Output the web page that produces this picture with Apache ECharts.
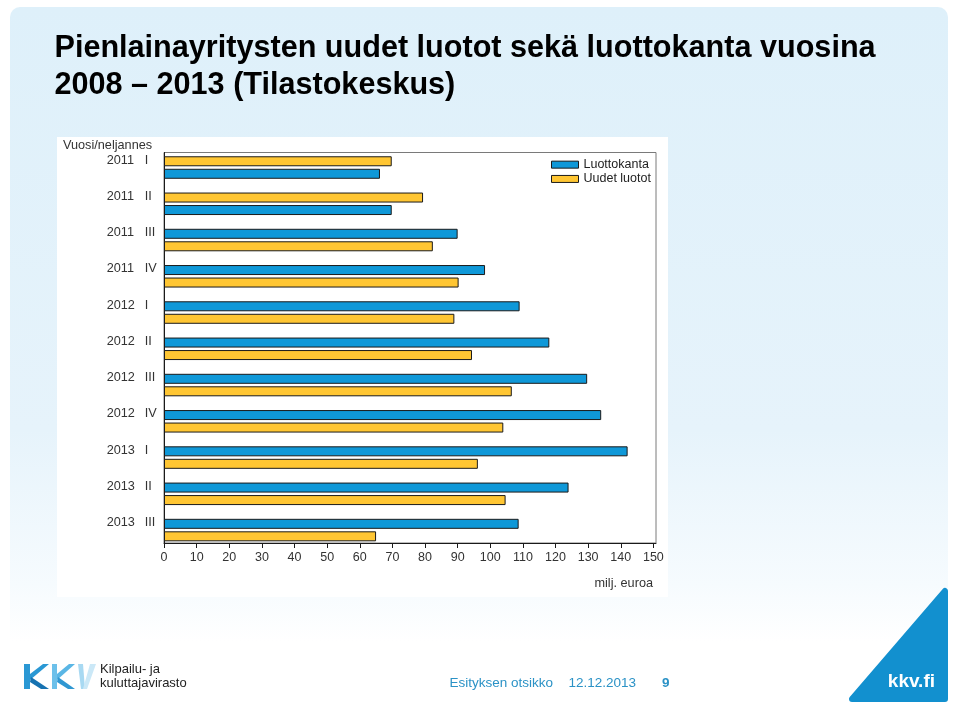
<!DOCTYPE html>
<html><head><meta charset="utf-8">
<script src="https://cdn.jsdelivr.net/npm/echarts/dist/echarts.min.js"></script>
<style>html,body{margin:0;padding:0;background:#fff}#c{width:960px;height:718px}</style>
</head><body><div id="c"></div>
<script>
const categories = ['2011 I','2011 II','2011 III','2011 IV','2012 I','2012 II','2012 III','2012 IV','2013 I','2013 II','2013 III'];
const luottokanta = [66.2, 69.8, 90.0, 98.4, 109.0, 118.1, 129.7, 134.0, 142.1, 124.0, 108.7];
const uudetLuotot = [69.8, 79.4, 82.4, 90.3, 89.0, 94.4, 106.6, 104.0, 96.2, 104.7, 65.0];
const luottokantaOnTop = [false, false, true, true, true, true, true, true, true, true, true];
const seriesNames = ['Luottokanta', 'Uudet luotot'];
const titleLines = ['Pienlainayritysten uudet luotot sekä luottokanta vuosina', '2008 – 2013 (Tilastokeskus)'];
const categoryTitle = 'Vuosi/neljannes';
const unitLabel = 'milj. euroa';
const footerTexts = ['Esityksen otsikko', '12.12.2013', '9'];
const orgName = ['Kilpailu- ja', 'kuluttajavirasto'];

const FF = '"Liberation Sans", Arial, Helvetica, sans-serif';
const BLUE = '#0f98d8', ORANGE = '#ffc633', EDGE = '#1a1a1a';
const AX_MAX = 150.8;

const pick = (vals, flags, want) => vals.map((v, i) => flags[i] === want ? v : '-');
const barBase = (color) => ({
  type: 'bar', xAxisIndex: 1, yAxisIndex: 1, barWidth: 10, barGap: '25%',
  itemStyle: { color: color, borderColor: EDGE, borderWidth: 1 },
  emphasis: { disabled: true }, silent: true
});

const chart = echarts.init(document.getElementById('c'), null, { renderer: 'canvas' });
chart.setOption({
  animation: false,
  textStyle: { fontFamily: FF },
  graphic: [
    { type: 'rect', z: -10, shape: { x: 10, y: 7, width: 938, height: 705, r: 10 },
      style: { fill: new echarts.graphic.LinearGradient(0, 0, 0, 1, [
        { offset: 0, color: '#def0fa' }, { offset: 0.6, color: '#e6f3fb' },
        { offset: 0.82, color: '#f6fbfe' }, { offset: 0.9, color: '#ffffff' }, { offset: 1, color: '#ffffff' }]) } },
    { type: 'rect', z: -9, shape: { x: 57, y: 137, width: 611, height: 460 }, style: { fill: '#ffffff' } },
    { type: 'text', style: { x: 54.5, y: 48.5, text: titleLines[0], font: 'bold 30.6px ' + FF, fill: '#000', textVerticalAlign: 'middle' } },
    { type: 'text', style: { x: 54.5, y: 86, text: titleLines[1], font: 'bold 30.6px ' + FF, fill: '#000', textVerticalAlign: 'middle' } },
    { type: 'text', style: { x: 63, y: 145, text: categoryTitle, font: '12.7px ' + FF, fill: '#333', textVerticalAlign: 'middle' } },
    { type: 'text', style: { x: 653, y: 583, text: unitLabel, font: '12.7px ' + FF, fill: '#333', textAlign: 'right', textVerticalAlign: 'middle' } },
    // KKV logo
    { type: 'rect', shape: { x: 24, y: 664, width: 6, height: 25 }, style: { fill: '#2a98d4' } },
    { type: 'polygon', shape: { points: [[30, 674], [43, 664], [49, 664], [30, 680]] }, style: { fill: '#2a98d4' } },
    { type: 'polygon', shape: { points: [[31, 677], [49, 689], [41, 689], [30, 682]] }, style: { fill: '#1672b1' } },
    { type: 'rect', shape: { x: 52, y: 664, width: 5, height: 25 }, style: { fill: '#6cc0ea' } },
    { type: 'polygon', shape: { points: [[57, 674], [69, 664], [75, 664], [57, 680]] }, style: { fill: '#5ab6e5' } },
    { type: 'polygon', shape: { points: [[58, 677], [75, 689], [68, 689], [57, 682]] }, style: { fill: '#2f97d2' } },
    { type: 'polygon', shape: { points: [[78, 664], [83, 664], [85, 689], [81, 689]] }, style: { fill: '#a8d9f2' } },
    { type: 'polygon', shape: { points: [[90, 664], [96, 664], [87, 689], [83, 689]] }, style: { fill: '#cbe8f7' } },
    { type: 'text', style: { x: 100, y: 669.5, text: orgName[0], font: '13px ' + FF, fill: '#222', textVerticalAlign: 'middle' } },
    { type: 'text', style: { x: 100, y: 683.5, text: orgName[1], font: '13px ' + FF, fill: '#222', textVerticalAlign: 'middle' } },
    // footer
    { type: 'text', style: { x: 449.5, y: 683, text: footerTexts[0], font: '13.5px ' + FF, fill: '#2b92c6', textVerticalAlign: 'middle' } },
    { type: 'text', style: { x: 568.5, y: 683, text: footerTexts[1], font: '13.5px ' + FF, fill: '#2b92c6', textVerticalAlign: 'middle' } },
    { type: 'text', style: { x: 662, y: 683, text: footerTexts[2], font: 'bold 13.5px ' + FF, fill: '#2b92c6', textVerticalAlign: 'middle' } },
    { type: 'polygon', shape: { points: [[852, 699], [945, 591], [945, 699]] },
      style: { fill: '#1290cf', stroke: '#1290cf', lineWidth: 6, lineJoin: 'round' } },
    { type: 'text', style: { x: 935, y: 682, text: 'kkv.fi', font: 'bold 19px ' + FF, fill: '#ffffff', textAlign: 'right', textVerticalAlign: 'middle' } }
  ],
  legend: {
    data: seriesNames, orient: 'vertical', left: 551, top: 157.5, padding: 0,
    itemWidth: 27, itemHeight: 7, itemGap: 0, icon: 'rect', selectedMode: false,
    itemStyle: { borderWidth: 1, borderColor: EDGE },
    textStyle: { fontSize: 12.5, lineHeight: 14.3, color: '#222', fontFamily: FF }
  },
  grid: [
    { left: 164, top: 152.5, width: 492, height: 390.5, show: true, borderColor: '#7a7a7a', borderWidth: 1 },
    { left: 164, top: 149.4, width: 492, height: 398.8 }
  ],
  xAxis: [
    { gridIndex: 0, type: 'value', min: 0, max: AX_MAX, interval: 10,
      axisLine: { show: true, lineStyle: { color: EDGE, width: 1 } },
      axisTick: { show: true, length: 5, lineStyle: { color: EDGE } },
      axisLabel: { margin: 8, fontSize: 12.5, color: '#333', fontFamily: FF, showMaxLabel: false },
      splitLine: { show: false } },
    { gridIndex: 1, type: 'value', min: 0, max: AX_MAX, show: false }
  ],
  yAxis: [
    { gridIndex: 0, type: 'value', min: 0, max: 1,
      axisLine: { show: true, lineStyle: { color: EDGE, width: 1 } },
      axisTick: { show: false }, axisLabel: { show: false }, splitLine: { show: false } },
    { gridIndex: 1, type: 'category', inverse: true, data: categories,
      axisLine: { show: false }, axisTick: { show: false },
      axisLabel: {
        align: 'left', margin: 57.3, padding: [0, 0, 15, 0],
        formatter: (v) => { const p = v.split(' '); return '{a|' + p[0] + '}{b|' + p[1] + '}'; },
        rich: {
          a: { width: 38, fontSize: 12.7, color: '#333', fontFamily: FF },
          b: { fontSize: 12.7, color: '#333', fontFamily: FF }
        }
      } }
  ],
  series: [
    Object.assign(barBase(BLUE), { name: seriesNames[0], stack: 'upper', data: pick(luottokanta, luottokantaOnTop, true) }),
    Object.assign(barBase(ORANGE), { name: seriesNames[1], stack: 'upper', data: pick(uudetLuotot, luottokantaOnTop, false) }),
    Object.assign(barBase(BLUE), { name: seriesNames[0], stack: 'lower', data: pick(luottokanta, luottokantaOnTop, false) }),
    Object.assign(barBase(ORANGE), { name: seriesNames[1], stack: 'lower', data: pick(uudetLuotot, luottokantaOnTop, true) })
  ]
});
</script>
</body></html>
